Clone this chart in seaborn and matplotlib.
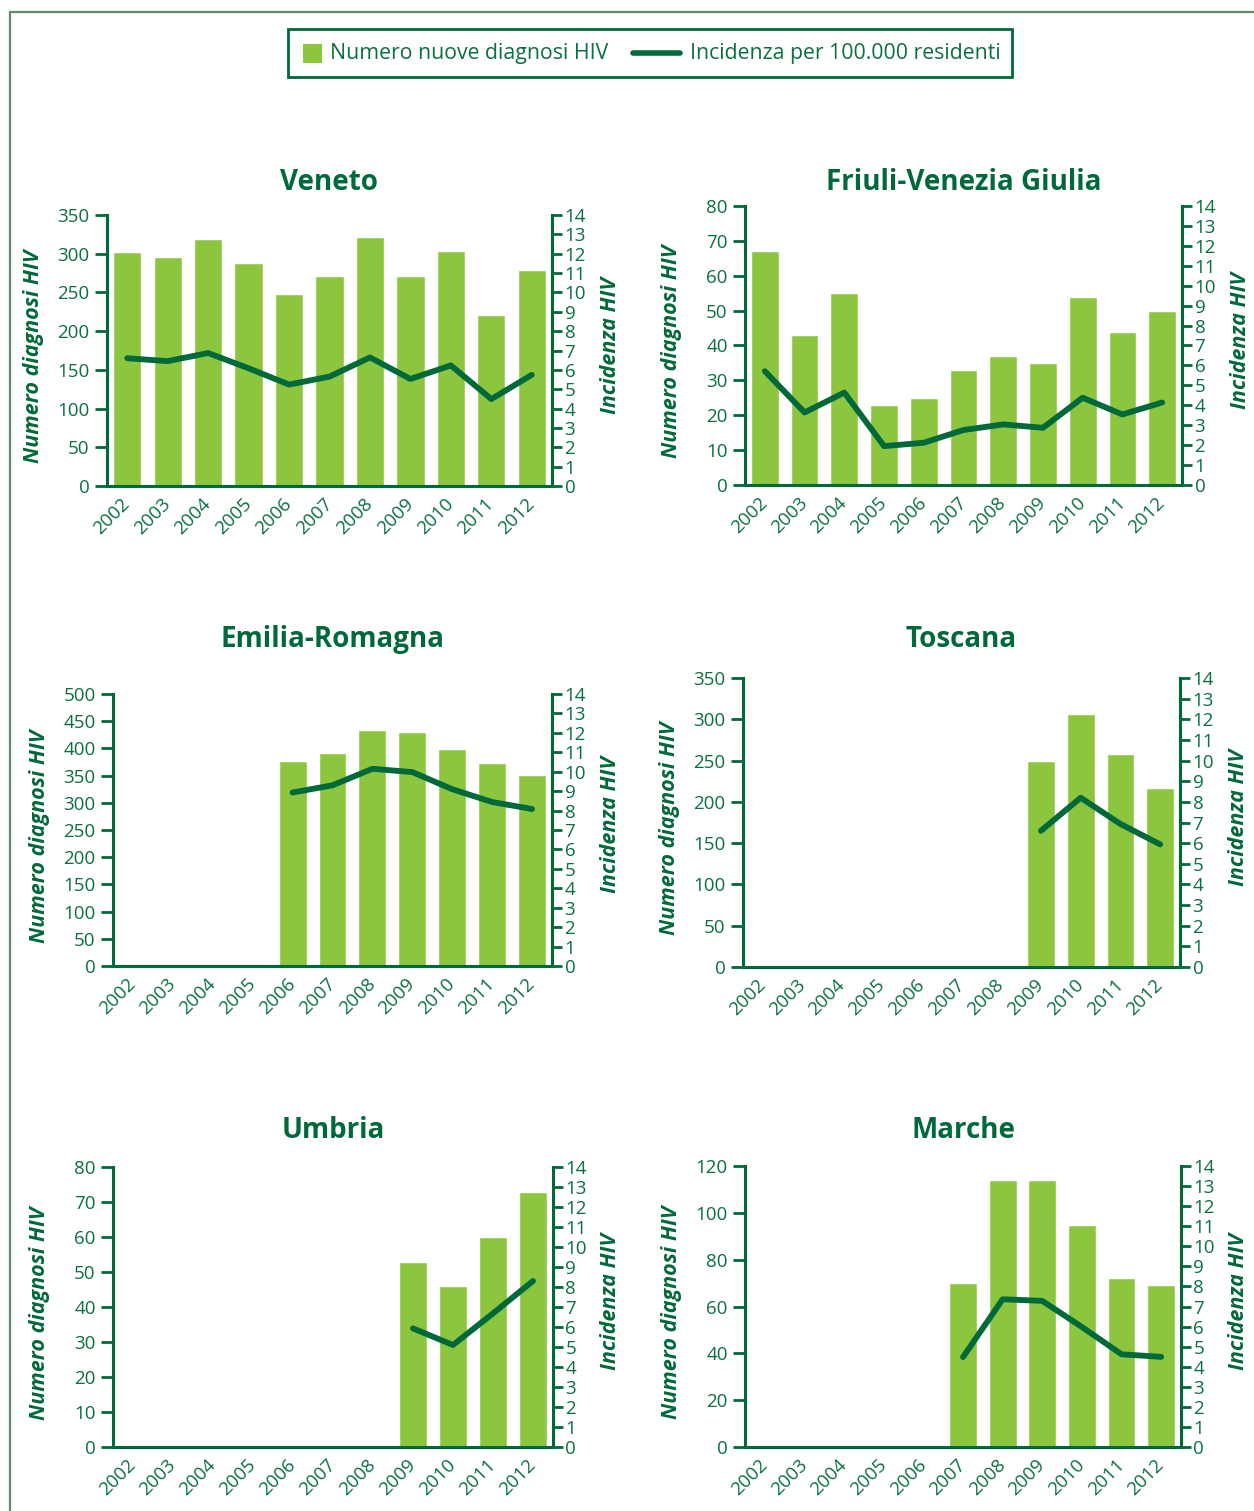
import numpy as np
import pandas as pd
import matplotlib
matplotlib.use("Agg")
import matplotlib.pyplot as plt
from matplotlib.lines import Line2D
from matplotlib.patches import Rectangle
from matplotlib.transforms import ScaledTranslation
import seaborn as sns

# Dati
anni = ["2002", "2003", "2004", "2005", "2006", "2007", "2008", "2009", "2010", "2011", "2012"]
nan = np.nan

veneto_diagnosi = [302, 296, 319, 288, 248, 271, 322, 271, 304, 221, 279]
veneto_incidenza = [6.6, 6.45, 6.87, 6.08, 5.24, 5.65, 6.64, 5.53, 6.23, 4.49, 5.74]

friuli_diagnosi = [67, 43, 55, 23, 25, 33, 37, 35, 54, 44, 50]
friuli_incidenza = [5.71, 3.64, 4.64, 1.95, 2.12, 2.76, 3.04, 2.87, 4.38, 3.54, 4.14]

emilia_diagnosi = [nan, nan, nan, nan, 376, 391, 434, 431, 398, 373, 351]
emilia_incidenza = [nan, nan, nan, nan, 8.93, 9.3, 10.15, 9.98, 9.1, 8.44, 8.08]

toscana_diagnosi = [nan, nan, nan, nan, nan, nan, nan, 250, 306, 258, 217]
toscana_incidenza = [nan, nan, nan, nan, nan, nan, nan, 6.6, 8.2, 6.93, 5.94]

umbria_diagnosi = [nan, nan, nan, nan, nan, nan, nan, 53, 46, 60, 73]
umbria_incidenza = [nan, nan, nan, nan, nan, nan, nan, 5.93, 5.1, 6.68, 8.3]

marche_diagnosi = [nan, nan, nan, nan, nan, 70, 114, 114, 95, 72, 69]
marche_incidenza = [nan, nan, nan, nan, nan, 4.48, 7.36, 7.28, 5.98, 4.62, 4.49]

regioni = [
    ("Veneto", veneto_diagnosi, veneto_incidenza, 350, 50),
    ("Friuli-Venezia Giulia", friuli_diagnosi, friuli_incidenza, 80, 10),
    ("Emilia-Romagna", emilia_diagnosi, emilia_incidenza, 500, 50),
    ("Toscana", toscana_diagnosi, toscana_incidenza, 350, 50),
    ("Umbria", umbria_diagnosi, umbria_incidenza, 80, 10),
    ("Marche", marche_diagnosi, marche_incidenza, 120, 20),
]

# posizione dei pannelli in pixel: sinistra, destra, alto, basso, y titolo
pannelli = [
    (107, 552, 215, 486, 181),
    (745, 1182, 206, 485, 181),
    (113, 552, 694, 966, 638),
    (743, 1180, 678, 967, 638),
    (113, 553, 1167, 1447, 1129),
    (745, 1181, 1166, 1447, 1129),
]

# Colori
verde_chiaro = "#8cc63f"
verde_scuro = "#00693a"
verde_testo = "#0b7040"
verde_cornice = "#5e8c6c"

W, H = 1254, 1511
sns.set_style("white")
plt.rcParams["font.family"] = ["Open Sans", "DejaVu Sans"]

fig = plt.figure(figsize=(W / 100, H / 100), dpi=100)

# cornice esterna (solo sopra e a sinistra)
fig.add_artist(Line2D([10 / W, 10 / W], [0, 1 - 12 / H], color=verde_cornice, lw=1.6))
fig.add_artist(Line2D([10 / W, 1], [1 - 12 / H, 1 - 12 / H], color=verde_cornice, lw=1.6))

# legenda disegnata a mano
fig.add_artist(Rectangle((288 / W, 1 - 77 / H), (1012 - 288) / W, 48 / H,
                         transform=fig.transFigure, fill=False, edgecolor=verde_scuro, lw=2))
fig.add_artist(Rectangle((303 / W, 1 - 63 / H), 19 / W, 19 / H,
                         transform=fig.transFigure, color=verde_chiaro, lw=0))
fig.text(330 / W, 1 - 54 / H, "Numero nuove diagnosi HIV", fontsize=15.3,
         color=verde_testo, ha="left", va="center")
fig.add_artist(Line2D([633 / W, 680 / W], [1 - 53 / H, 1 - 53 / H], color=verde_scuro, lw=4))
fig.text(690 / W, 1 - 54 / H, "Incidenza per 100.000 residenti", fontsize=15.3,
         color=verde_testo, ha="left", va="center")

pos = np.arange(len(anni))
offset = ScaledTranslation(7 / 100, 0, fig.dpi_scale_trans)

for (nome, diagnosi, incidenza, ymax, passo), (L, R, T, B, ty) in zip(regioni, pannelli):
    ax = fig.add_axes([L / W, 1 - B / H, (R - L) / W, (B - T) / H])
    df = pd.DataFrame({"anno": anni, "diagnosi": diagnosi, "incidenza": incidenza, "pos": pos})

    # barre: numero diagnosi
    sns.barplot(data=df, x="anno", y="diagnosi", order=anni, color=verde_chiaro,
                saturation=1, width=0.7, errorbar=None, ax=ax)

    # linea: incidenza (asse destro)
    ax2 = ax.twinx()
    linea = df.dropna(subset=["incidenza"])
    sns.lineplot(data=linea, x="pos", y="incidenza", color=verde_scuro, linewidth=4.2,
                 solid_capstyle="round", ax=ax2)

    ax.set_xlim(-0.5, len(anni) - 0.5)
    ax.set_ylim(0, ymax)
    ax.set_yticks(np.arange(0, ymax + 1, passo))
    ax2.set_ylim(0, 14)
    ax2.set_yticks(np.arange(0, 15, 1))
    ax.set_xlabel("")
    ax.set_ylabel("")
    ax2.set_xlabel("")
    ax2.set_ylabel("")

    # tacche sui confini delle categorie, etichette ruotate sotto le barre
    ax.set_xticks(np.arange(-0.5, len(anni), 1))
    ax.set_xticklabels([])
    ax.set_xticks(pos, minor=True)
    ax.set_xticklabels(anni, minor=True, rotation=45, ha="right", va="center",
                       rotation_mode="anchor")
    for lbl in ax.get_xticklabels(minor=True):
        lbl.set_transform(lbl.get_transform() + offset)
    ax.tick_params(axis="x", which="major", length=7.5, width=2, color=verde_scuro)
    ax.tick_params(axis="x", which="minor", length=0, pad=11, labelsize=13.5,
                   labelcolor=verde_testo)
    ax.tick_params(axis="y", length=8.5, width=2, pad=4, color=verde_scuro,
                   labelsize=13.5, labelcolor=verde_testo)
    ax2.tick_params(axis="y", length=7.5, width=2, pad=1.5, color=verde_scuro,
                    labelsize=13.5, labelcolor=verde_testo)

    for s in ["top", "right"]:
        ax.spines[s].set_visible(False)
    for s in ["top", "left", "bottom"]:
        ax2.spines[s].set_visible(False)
    for s in ["left", "bottom"]:
        ax.spines[s].set_color(verde_scuro)
        ax.spines[s].set_linewidth(2.2)
    ax2.spines["right"].set_color(verde_scuro)
    ax2.spines["right"].set_linewidth(2.2)

    # titolo ed etichette degli assi
    cx = (L + R) / 2
    cy = (T + B) / 2
    fig.text(cx / W, 1 - (ty + 2) / H, nome, fontsize=20, fontweight="bold",
             color=verde_scuro, ha="center", va="center")
    fig.text((L - 73) / W, 1 - (cy + 6) / H, "Numero diagnosi HIV", fontsize=15.5,
             fontweight="bold", fontstyle="italic", color=verde_scuro,
             rotation=90, ha="center", va="center")
    fig.text((R + 58) / W, 1 - (cy - 5) / H, "Incidenza HIV", fontsize=15.5,
             fontweight="bold", fontstyle="italic", color=verde_scuro,
             rotation=90, ha="center", va="center")

plt.savefig("out.png", dpi=100)
